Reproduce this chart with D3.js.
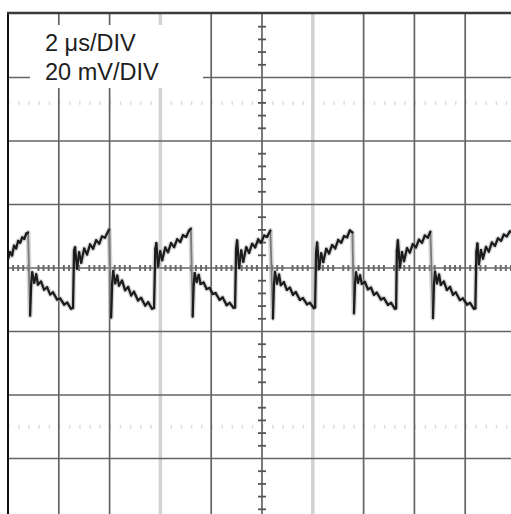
<!DOCTYPE html>
<html>
<head>
<meta charset="utf-8">
<script src="https://cdn.jsdelivr.net/npm/d3@7/dist/d3.min.js"></script>
<style>
  body { margin: 0; background: #fff; }
  svg { display: block; }
</style>
</head>
<body>
<div id="vis"></div>
<script>
// horizontal: 2 us per division, vertical: 20 mV per division
var timeTicks = [0, 2, 4, 6, 8, 10, 12, 14, 16, 18, 20],
    voltTicks = [-80, -60, -40, -20, 0, 20, 40, 60, 80],
    fadedTimes = [6, 12],          // grid lines that came out pale in the scan
    ghostVolts = [52, -50],        // faint dotted echo rows
    labels = ["2 \u03bcs/DIV", "20 mV/DIV"];

// trace samples: [time us, mV]
var trace = [
  [0.00, 2.8], [0.08, 5.0], [0.16, 4.0], [0.24, 7.0], [0.32, 6.2], [0.40, 8.5], [0.48, 8.0],
  [0.56, 9.6], [0.64, 9.2], [0.72, 10.8], [0.79, 11.2],
  [0.87, -15.0], [0.91, -5.5], [0.95, -1.4], [1.03, -4.6], [1.11, -2.0], [1.18, -5.2], [1.30, -4.3],
  [1.42, -6.8], [1.54, -6.1], [1.66, -8.3], [1.77, -7.7], [1.93, -9.9], [2.05, -9.6], [2.21, -11.5],
  [2.33, -10.9], [2.48, -12.8], [2.56, -12.6],
  [2.60, 5.5], [2.64, 6.5], [2.72, -0.2], [2.80, 4.9], [2.88, 1.7], [3.00, 6.1], [3.11, 4.3],
  [3.23, 7.4], [3.35, 6.1], [3.47, 8.7], [3.59, 7.7], [3.70, 9.9], [3.82, 9.6], [3.98, 12.1],
  [4.06, -15.6], [4.10, -5.0], [4.14, -1.0], [4.22, -4.8], [4.30, -2.4], [4.37, -5.5], [4.49, -4.0],
  [4.61, -7.0], [4.73, -6.0], [4.85, -8.6], [4.96, -7.5], [5.12, -10.2], [5.24, -9.4], [5.40, -11.8],
  [5.52, -10.8], [5.67, -12.8], [5.75, -12.6],
  [5.80, 6.0], [5.84, 7.8], [5.91, 0.5], [5.99, 5.2], [6.07, 2.5], [6.19, 6.4], [6.30, 5.0],
  [6.42, 7.8], [6.54, 6.6], [6.66, 9.0], [6.78, 8.2], [6.89, 10.3], [7.01, 9.8], [7.13, 11.8], [7.20, 12.4],
  [7.27, -15.3], [7.31, -5.2], [7.35, -1.6], [7.43, -4.4], [7.51, -2.2], [7.58, -5.0], [7.70, -4.6],
  [7.82, -6.6], [7.94, -6.3], [8.06, -8.2], [8.17, -7.9], [8.33, -10.0], [8.45, -9.3], [8.61, -11.7],
  [8.73, -11.0], [8.88, -12.5], [8.94, -12.4],
  [8.98, 6.0], [9.02, 8.7], [9.10, 0.0], [9.18, 5.5], [9.26, 2.0], [9.38, 6.5], [9.49, 4.8],
  [9.61, 7.6], [9.73, 6.5], [9.85, 9.0], [9.97, 8.0], [10.08, 10.2], [10.20, 9.8], [10.33, 11.8],
  [10.43, -15.9], [10.47, -5.4], [10.51, -1.2], [10.59, -4.9], [10.67, -2.1], [10.74, -5.4], [10.86, -4.5],
  [10.98, -6.9], [11.10, -6.2], [11.22, -8.4], [11.33, -7.6], [11.49, -10.0], [11.61, -9.5], [11.77, -11.4],
  [11.89, -11.0], [12.04, -12.6], [12.09, -12.4],
  [12.13, 5.0], [12.17, 8.0], [12.25, -0.3], [12.33, 4.6], [12.41, 1.9], [12.53, 6.0], [12.64, 4.6],
  [12.76, 7.2], [12.88, 6.2], [13.00, 8.8], [13.12, 8.0], [13.23, 10.0], [13.35, 9.7], [13.46, 11.8], [13.56, 11.2],
  [13.62, -14.3], [13.66, -5.0], [13.70, -1.4], [13.78, -4.6], [13.86, -2.3], [13.93, -5.0], [14.05, -4.4],
  [14.17, -6.7], [14.29, -6.2], [14.41, -8.4], [14.52, -7.8], [14.68, -9.9], [14.80, -9.5], [14.96, -11.6],
  [15.08, -11.0], [15.23, -12.8], [15.28, -12.7],
  [15.31, 5.5], [15.35, 8.7], [15.43, 0.2], [15.51, 5.0], [15.59, 2.2], [15.71, 6.2], [15.82, 4.9],
  [15.94, 7.5], [16.06, 6.5], [16.18, 8.9], [16.30, 8.0], [16.41, 10.2], [16.53, 9.6], [16.63, 11.4],
  [16.73, -15.8], [16.77, -5.3], [16.81, -1.2], [16.89, -4.8], [16.97, -2.1], [17.04, -5.3], [17.16, -4.3],
  [17.28, -6.9], [17.40, -6.0], [17.52, -8.4], [17.63, -7.7], [17.79, -10.1], [17.91, -9.6], [18.07, -11.5],
  [18.19, -11.0], [18.34, -12.8], [18.40, -12.7],
  [18.44, 5.0], [18.48, 7.7], [18.54, 1.2], [18.62, 5.6], [18.70, 3.0], [18.82, 6.6], [18.93, 5.2],
  [19.05, 8.0], [19.17, 7.0], [19.29, 9.3], [19.41, 8.6], [19.52, 10.5], [19.64, 10.0], [19.76, 11.5], [19.84, 11.3]
];

var width = 511, height = 514;

var x = d3.scaleLinear().domain([0, 20]).range([8, 516]);
var y = d3.scaleLinear().domain([-80, 80]).range([522, 14]);

var svg = d3.select("#vis")
  .append("svg")
  .attr("width", width)
  .attr("height", height);

svg.append("clipPath").attr("id", "screen")
  .append("rect")
  .attr("x", 8).attr("y", 13)
  .attr("width", width - 8).attr("height", height - 13);

var g = svg.append("g").attr("clip-path", "url(#screen)");

// faint echo rows
g.selectAll(".ghost")
  .data(ghostVolts)
  .enter().append("line")
  .attr("x1", 8).attr("x2", width)
  .attr("y1", function(d) { return y(d); })
  .attr("y2", function(d) { return y(d); })
  .attr("stroke", "#dedede")
  .attr("stroke-width", 4)
  .attr("stroke-dasharray", "1.5,8.66");

// grid
g.selectAll(".vgrid")
  .data(timeTicks.slice(1))
  .enter().append("line")
  .attr("x1", function(d) { return x(d); })
  .attr("x2", function(d) { return x(d); })
  .attr("y1", 13).attr("y2", height)
  .attr("stroke", function(d) { return fadedTimes.indexOf(d) >= 0 ? "#d2d2d2" : "#636363"; })
  .attr("stroke-width", function(d) { return fadedTimes.indexOf(d) >= 0 ? 3.5 : 1.7; });

g.selectAll(".hgrid")
  .data(voltTicks.slice(0, -1))
  .enter().append("line")
  .attr("x1", 8).attr("x2", width)
  .attr("y1", function(d) { return y(d); })
  .attr("y2", function(d) { return y(d); })
  .attr("stroke", "#636363")
  .attr("stroke-width", 1.7);

// minor ticks on the centre axes (5 per division)
var minorT = d3.range(0, 101).map(function(i) { return i * 0.2; }).filter(function(d, i) { return i % 5 !== 0; });
var minorV = d3.range(-20, 21).map(function(i) { return i * 4; }).filter(function(d, i) { return i % 5 !== 0; });

g.selectAll(".tt")
  .data(minorT)
  .enter().append("line")
  .attr("x1", function(d) { return x(d); })
  .attr("x2", function(d) { return x(d); })
  .attr("y1", y(0) - 3).attr("y2", y(0) + 3)
  .attr("stroke", "#6a6a6a").attr("stroke-width", 2);

g.selectAll(".vt")
  .data(minorV)
  .enter().append("line")
  .attr("x1", x(10) - 4).attr("x2", x(10) + 4)
  .attr("y1", function(d) { return y(d); })
  .attr("y2", function(d) { return y(d); })
  .attr("stroke", "#555").attr("stroke-width", 1.8);

// frame: left and top edges
svg.append("line").attr("x1", 8).attr("x2", 8).attr("y1", 12).attr("y2", height)
  .attr("stroke", "#111").attr("stroke-width", 2);
svg.append("line").attr("x1", 7).attr("x2", width).attr("y1", 13).attr("y2", 13)
  .attr("stroke", "#3a3a3a").attr("stroke-width", 2.4);

// trace: a soft halo, then each step, with the fast falling edges drawn faint
var line = d3.line()
  .x(function(d) { return x(d[0]); })
  .y(function(d) { return y(d[1]); });

g.append("path")
  .datum(trace)
  .attr("fill", "none")
  .attr("stroke", "#999")
  .attr("stroke-opacity", 0.4)
  .attr("stroke-width", 5)
  .attr("stroke-linejoin", "round")
  .attr("d", line);

var steps = d3.pairs(trace);

function isFall(p) { return p[1][1] - p[0][1] < -15; }

g.selectAll(".seg")
  .data(steps.filter(isFall))
  .enter().append("line")
  .attr("x1", function(p) { return x(p[0][0]); })
  .attr("y1", function(p) { return y(p[0][1]); })
  .attr("x2", function(p) { return x(p[1][0]); })
  .attr("y2", function(p) { return y(p[1][1]); })
  .attr("stroke", "#7a7a7a")
  .attr("stroke-width", 1.8)
  .attr("stroke-linecap", "round");

g.selectAll(".seg2")
  .data(steps.filter(function(p) { return !isFall(p); }))
  .enter().append("line")
  .attr("x1", function(p) { return x(p[0][0]); })
  .attr("y1", function(p) { return y(p[0][1]); })
  .attr("x2", function(p) { return x(p[1][0]); })
  .attr("y2", function(p) { return y(p[1][1]); })
  .attr("stroke", "#1c1c1c")
  .attr("stroke-width", 2.3)
  .attr("stroke-linecap", "round");

// label box
svg.append("rect")
  .attr("x", 30).attr("y", 25)
  .attr("width", 173).attr("height", 63)
  .attr("fill", "#fff");

svg.selectAll(".lbl")
  .data(labels)
  .enter().append("text")
  .attr("x", 45)
  .attr("y", function(d, i) { return 51 + i * 29; })
  .attr("font-family", "'Liberation Sans', Arial, sans-serif")
  .attr("font-size", "23.5px")
  .attr("fill", "#1e1e1e")
  .text(function(d) { return d; });
</script>
</body>
</html>
